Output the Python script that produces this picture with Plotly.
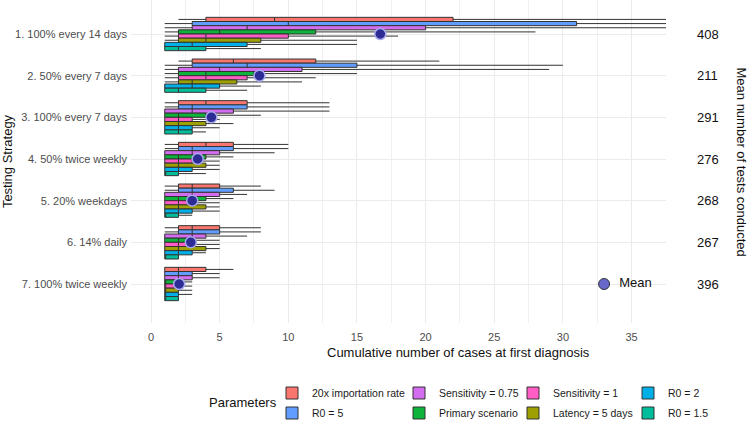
import plotly.graph_objects as go

# ---------------- data ----------------
STRATEGIES = ["1. 100% every 14 days", "2. 50% every 7 days", "3. 100% every 7 days",
              "4. 50% twice weekly", "5. 20% weekdays", "6. 14% daily", "7. 100% twice weekly"]
STRATEGY_POS = [1, 2, 3, 4, 5, 6, 7]
MEAN_TESTS = [408, 211, 291, 276, 268, 267, 396]
MEAN_CASES = [16.7, 7.9, 4.4, 3.4, 3.0, 2.9, 2.05]

PARAMS = ["20x importation rate", "R0 = 5", "Sensitivity = 0.75", "Primary scenario",
          "Sensitivity = 1", "Latency = 5 days", "R0 = 2", "R0 = 1.5"]
COLORS = ["#F8766D", "#619CFF", "#D46CF0", "#0DB33A", "#FF5CC6", "#9DA000", "#00AFE8", "#00BE9C"]

# box statistics per parameter, strategies 1..7
IMP20_LOW = [2, 2, 1, 1, 1, 1, 1]
IMP20_Q1 = [4, 3, 2, 2, 2, 2, 1]
IMP20_MED = [9, 6, 4, 4, 3, 3, 2]
IMP20_Q3 = [22, 12, 7, 6, 5, 5, 4]
IMP20_HIGH = [50, 21, 13, 10, 8, 8, 6]

R05_LOW = [1, 1, 1, 1, 1, 1, 1]
R05_Q1 = [3, 3, 2, 2, 2, 2, 1]
R05_MED = [10, 7, 3, 3, 3, 3, 2]
R05_Q3 = [31, 15, 7, 6, 6, 5, 3]
R05_HIGH = [60, 30, 13, 10, 9, 8, 5]

SENS75_LOW = [1, 1, 1, 1, 1, 1, 1]
SENS75_Q1 = [3, 2, 1, 1, 1, 1, 1]
SENS75_MED = [7, 5, 3, 3, 3, 3, 2]
SENS75_Q3 = [20, 11, 6, 5, 5, 4, 3]
SENS75_HIGH = [40, 29, 13, 9, 7, 7, 5]

PRIMARY_LOW = [1, 1, 1, 1, 1, 1, 1]
PRIMARY_Q1 = [2, 2, 1, 1, 1, 1, 1]
PRIMARY_MED = [5, 4, 2, 2, 2, 2, 1]
PRIMARY_Q3 = [12, 7.5, 4, 4, 4, 3, 2]
PRIMARY_HIGH = [28, 15, 8, 6, 6, 5, 3]

SENS1_LOW = [1, 1, 1, 1, 1, 1, 1]
SENS1_Q1 = [2, 2, 1, 1, 1, 1, 1]
SENS1_MED = [4, 4, 2, 2, 2, 2, 1]
SENS1_Q3 = [10, 7, 3, 3, 3, 3, 2]
SENS1_HIGH = [18, 12, 5, 5, 5, 5, 3]

LAT5_LOW = [1, 1, 1, 1, 1, 1, 1]
LAT5_Q1 = [2, 2, 1, 1, 1, 1, 1]
LAT5_MED = [4, 3, 2, 2, 2, 2, 1]
LAT5_Q3 = [8, 6.25, 4, 4, 4, 4, 2]
LAT5_HIGH = [15, 11, 6, 5, 5, 5, 3]

R02_LOW = [1, 1, 1, 1, 1, 1, 1]
R02_Q1 = [1, 1, 1, 1, 1, 1, 1]
R02_MED = [3, 3, 2, 2, 2, 2, 1]
R02_Q3 = [7, 5, 3, 3, 3, 3, 2]
R02_HIGH = [15, 8, 5, 5, 5, 4, 3]

R015_LOW = [1, 1, 1, 1, 1, 1, 1]
R015_Q1 = [1, 1, 1, 1, 1, 1, 1]
R015_MED = [2, 2, 2, 1, 1, 1, 1]
R015_Q3 = [4, 4, 3, 2, 2, 2, 2]
R015_HIGH = [8, 7, 4, 4, 3, 2, 2]

MEAN_KEY_X = [33]
MEAN_KEY_Y = [7]
MEAN_KEY_TEXT = ["Mean"]

STATS = [
    (IMP20_LOW, IMP20_Q1, IMP20_MED, IMP20_Q3, IMP20_HIGH),
    (R05_LOW, R05_Q1, R05_MED, R05_Q3, R05_HIGH),
    (SENS75_LOW, SENS75_Q1, SENS75_MED, SENS75_Q3, SENS75_HIGH),
    (PRIMARY_LOW, PRIMARY_Q1, PRIMARY_MED, PRIMARY_Q3, PRIMARY_HIGH),
    (SENS1_LOW, SENS1_Q1, SENS1_MED, SENS1_Q3, SENS1_HIGH),
    (LAT5_LOW, LAT5_Q1, LAT5_MED, LAT5_Q3, LAT5_HIGH),
    (R02_LOW, R02_Q1, R02_MED, R02_Q3, R02_HIGH),
    (R015_LOW, R015_Q1, R015_MED, R015_Q3, R015_HIGH),
]

FONT = "Liberation Sans, Arial, sans-serif"

# layout geometry (pixels)
PLOT_L, PLOT_R, PLOT_H = 131, 666, 323
PLOT_W = PLOT_R - PLOT_L
LEG_COL_LEFT = [272, 272, 399, 399, 513, 513, 628, 628]
LEG_ROW_Y = [393, 413, 393, 413, 393, 413, 393, 413]
LEGEND_IDS = ["legend"] + ["legend%d" % i for i in range(2, 9)]

# ---------------- figure ----------------
fig = go.Figure()
for name, color, (lo, q1, med, q3, hi), lg in zip(PARAMS, COLORS, STATS, LEGEND_IDS):
    fig.add_trace(go.Box(
        y=STRATEGY_POS, lowerfence=lo, q1=q1, median=med, q3=q3, upperfence=hi,
        orientation="h", name=name, fillcolor=color,
        line=dict(color="#333333", width=1), whiskerwidth=0,
        legend=lg, hoverinfo="skip",
    ))

fig.add_trace(go.Scatter(
    x=MEAN_CASES, y=STRATEGY_POS, mode="markers", yaxis="y2",
    marker=dict(size=11, color="#2c2c94", line=dict(color="#a8a8ec", width=1.5)),
    showlegend=False, hoverinfo="skip",
))
fig.add_trace(go.Scatter(
    x=MEAN_KEY_X, y=MEAN_KEY_Y, mode="markers+text", text=MEAN_KEY_TEXT,
    texttemplate="\u00a0\u00a0%{text}",
    textposition="middle right", textfont=dict(size=13, color="#111", family=FONT),
    marker=dict(size=11, color="#6767CC", line=dict(color="#333", width=1)),
    showlegend=False, hoverinfo="skip", cliponaxis=False,
))

YRANGE = [7.936, 0.184]
XRANGE = [-1.457, 37.51]

legends = {}
for lg, lx, ly in zip(LEGEND_IDS, LEG_COL_LEFT, LEG_ROW_Y):
    legends[lg] = dict(orientation="v", yanchor="middle", xanchor="left",
                       x=(lx - PLOT_L) / PLOT_W, y=(PLOT_H - ly) / PLOT_H,
                       font=dict(size=10.5, color="#1a1a1a", family=FONT),
                       bgcolor="rgba(0,0,0,0)", borderwidth=0)

fig.update_layout(
    width=747, height=422,
    margin=dict(l=PLOT_L, r=747 - PLOT_R, t=0, b=422 - PLOT_H, autoexpand=False),
    paper_bgcolor="white", plot_bgcolor="white",
    font=dict(family=FONT, size=11, color="#4d4d4d"),
    boxmode="group", boxgap=0.2, boxgroupgap=0,
    xaxis=dict(range=XRANGE, tickmode="linear", tick0=0, dtick=5,
               showgrid=True, gridcolor="#EBEBEB", gridwidth=1, zeroline=False,
               showline=False, ticks="", ticklabelstandoff=6,
               tickfont=dict(size=11, color="#4d4d4d"), automargin=False,
               minor=dict(dtick=2.5, tick0=0, showgrid=True, gridcolor="#F0F0F0", gridwidth=0.8)),
    yaxis=dict(range=YRANGE, tickmode="array", tickvals=STRATEGY_POS, ticktext=STRATEGIES,
               showgrid=True, gridcolor="#EBEBEB", gridwidth=1, zeroline=False,
               ticks="", ticklabelstandoff=3, tickfont=dict(size=11, color="#4d4d4d"),
               automargin=False,
               title=dict(text="Testing Strategy", font=dict(size=13, color="#111"))),
    yaxis2=dict(range=YRANGE, overlaying="y", side="right", tickmode="array",
                tickvals=STRATEGY_POS, ticktext=[str(v) for v in MEAN_TESTS],
                showgrid=False, zeroline=False, ticks="", ticklabelstandoff=30,
                automargin=False, tickfont=dict(size=13, color="#111")),
    annotations=[
        dict(text="Cumulative number of cases at first diagnosis", xref="paper", yref="paper",
             x=(458 - PLOT_L) / PLOT_W, y=(PLOT_H - 352) / PLOT_H, xanchor="center", yanchor="middle",
             showarrow=False, font=dict(size=13, color="#111")),
        dict(text="Mean number of tests conducted", xref="paper", yref="paper",
             x=(741 - PLOT_L) / PLOT_W, y=0.5, xanchor="center", yanchor="middle", textangle=90,
             showarrow=False, font=dict(size=13, color="#111")),
        dict(text="Parameters", xref="paper", yref="paper",
             x=(242.5 - PLOT_L) / PLOT_W, y=(PLOT_H - 402) / PLOT_H, xanchor="center", yanchor="middle",
             showarrow=False, font=dict(size=13, color="#111")),
    ],
)
fig.update_layout(**legends)

fig.write_html("out.html", config={"displayModeBar": False},
               post_script="document.body.style.margin='0';document.body.style.overflow='hidden';")
